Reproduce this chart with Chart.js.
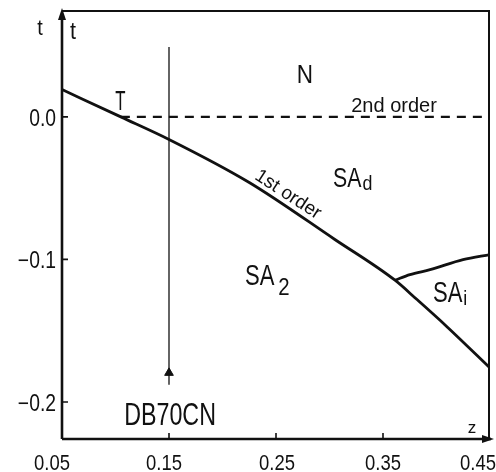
<!DOCTYPE html>
<html lang="en">
<head>
    <meta charset="UTF-8">
    <title>Phase diagram t vs z</title>
    <style>
        body { margin: 0; background: #fff; }
        #wrap { width: 496px; height: 472px; }
    </style>
</head>
<body>
    <div id="wrap"><canvas id="chart" width="496" height="472"></canvas></div>

    <script src="https://cdn.jsdelivr.net/npm/chart.js@4.4.9/dist/chart.umd.min.js"></script>
    <script>
        // axis range, tick values and labels
        const zMin = 0.05, zMax = 0.45;
        const tMin = -0.226, tMax = 0.075;
        const xTicks = [0.05, 0.15, 0.25, 0.35, 0.45];
        const xTickLabels = ['0.05', '0.15', '0.25', '0.35', '0.45'];
        const yTicks = [0.0, -0.1, -0.2];
        const yTickLabels = ['0.0', '\u22120.1', '\u22120.2'];

        // first order line (N/SAd -> SA2 / SAi)
        const zFirst = [0.05, 0.105, 0.15, 0.225, 0.305, 0.3612, 0.3815, 0.4095, 0.45];
        const tFirst = [0.0192, 0.0, -0.0158, -0.046, -0.086, -0.1146, -0.128, -0.147, -0.1761];
        // SAd / SAi boundary
        const zSAi = [0.3612, 0.3752, 0.394, 0.4248, 0.45];
        const tSAi = [-0.1146, -0.1107, -0.1072, -0.1002, -0.0966];
        // second order N-SAd line (dashed)
        const zSecond = [0.105, 0.45];
        const tSecond = [0.0, 0.0];
        // DB70CN path
        const zProbe = [0.15, 0.15];
        const tProbe = [0.049, -0.188];
        const zArrow = [0.15];
        const tArrow = [-0.1796];

        const toXY = (xs, ys) => xs.map((x, i) => ({ x: x, y: ys[i] }));

        // Liberation Sans squeezed horizontally stands in for the narrow lettering
        const FONT = '"Liberation Sans", Arial, sans-serif';
        const INK = '#111';
        const xLabelShift = [-10, -5, 1, 0, -12];

        const decor = {
            id: 'decor',
            afterDraw(chart) {
                const ctx = chart.ctx;
                const a = chart.chartArea;
                const xs = chart.scales.x, ys = chart.scales.y;
                const L = a.left, R = a.right, T = a.top, B = a.bottom;
                const px = v => xs.getPixelForValue(v);
                const py = v => ys.getPixelForValue(v);
                ctx.save();
                ctx.setLineDash([]);
                ctx.strokeStyle = INK;
                ctx.fillStyle = INK;

                // axes and frame in one path
                ctx.lineWidth = 2.6;
                ctx.beginPath();
                ctx.moveTo(L, B);
                ctx.lineTo(L, T + 4);
                ctx.moveTo(L, B);
                ctx.lineTo(R + 1, B);
                ctx.stroke();
                ctx.lineWidth = 2;
                ctx.beginPath();
                ctx.moveTo(L, T + 1);
                ctx.lineTo(R - 1, T + 1);
                ctx.lineTo(R - 1, B);
                ctx.stroke();

                // arrow heads
                ctx.beginPath();
                ctx.moveTo(L, T - 2);
                ctx.lineTo(L - 4, T + 10);
                ctx.lineTo(L + 4, T + 10);
                ctx.closePath();
                ctx.fill();
                ctx.beginPath();
                ctx.moveTo(R + 4, B);
                ctx.lineTo(R - 8, B - 4);
                ctx.lineTo(R - 8, B + 4);
                ctx.closePath();
                ctx.fill();

                // tick marks
                ctx.lineWidth = 1.6;
                ctx.beginPath();
                yTicks.forEach(v => {
                    ctx.moveTo(L, py(v));
                    ctx.lineTo(L + 6, py(v));
                });
                xTicks.slice(1, -1).forEach(v => {
                    ctx.moveTo(px(v), B);
                    ctx.lineTo(px(v), B - 6);
                });
                ctx.stroke();

                // condensed text helper, returns drawn width
                const text = (s, x, y, size, align, squeeze, baseline) => {
                    const k = squeeze || 0.8;
                    ctx.font = size + 'px ' + FONT;
                    ctx.textAlign = align || 'left';
                    ctx.textBaseline = baseline || 'alphabetic';
                    ctx.save();
                    ctx.translate(x, y);
                    ctx.scale(k, 1);
                    ctx.fillText(s, 0, 0);
                    ctx.restore();
                    return ctx.measureText(s).width * k;
                };
                const sub = (main, s, x, y, size, subSize, dx, dy) => {
                    const w = text(main, x, y, size, 'left', 0.76);
                    text(s, x + w + dx, y + dy, subSize, 'left', 0.85);
                };

                // tick labels
                xTicks.forEach((v, i) => text(xTickLabels[i], px(v) + xLabelShift[i], B + 31, 22, 'center', 0.84));
                yTicks.forEach((v, i) => text(yTickLabels[i], L - 6, py(v) + 9, 23, 'right', 0.84));

                // axis names
                text('t', L - 22, T + 25, 22, 'center', 0.9);
                text('t', L + 11, T + 29, 24, 'center', 0.9);
                text('z', R - 18, B - 6, 17, 'center', 1.0);

                // region and line labels
                text('T', px(0.1045), py(0.005), 28, 'center', 0.6);
                text('N', px(0.277), py(0.0239), 25, 'center', 0.9);
                text('2nd order', px(0.3603), py(0.0035), 20, 'center', 1.0);
                sub('SA', 'd', px(0.3033), py(-0.0491), 28, 21, 1, 3);
                sub('SA', '2', px(0.221), py(-0.1179), 29, 24, 4, 10);
                sub('SA', 'i', px(0.3967), py(-0.1298), 29, 21, 1, 3);
                text('DB70CN', px(0.151), py(-0.2161), 31, 'center', 0.75);

                ctx.save();
                ctx.translate(px(0.2612), py(-0.0545));
                ctx.rotate(33 * Math.PI / 180);
                text('1st order', 0, 0, 19, 'center', 1.0, 'middle');
                ctx.restore();

                ctx.restore();
            }
        };

        const line = (data, extra) => Object.assign({
            data: data,
            showLine: true,
            borderColor: INK,
            backgroundColor: INK,
            borderWidth: 2.8,
            pointRadius: 0,
            cubicInterpolationMode: 'monotone'
        }, extra || {});

        new Chart(document.getElementById('chart'), {
            type: 'scatter',
            data: {
                datasets: [
                    line(toXY(zFirst, tFirst)),
                    line(toXY(zSAi, tSAi)),
                    line(toXY(zSecond, tSecond), { borderDash: [9, 7], borderWidth: 2.2 }),
                    line(toXY(zProbe, tProbe), { borderWidth: 1.3 }),
                    { data: toXY(zArrow, tArrow), pointStyle: 'triangle', pointRadius: 5,
                      backgroundColor: INK, borderColor: INK, borderWidth: 1 }
                ]
            },
            options: {
                responsive: false,
                animation: false,
                devicePixelRatio: 1,
                layout: { padding: { top: 10, right: 6, left: 0, bottom: 0 } },
                plugins: { legend: { display: false }, tooltip: { enabled: false } },
                scales: {
                    x: {
                        type: 'linear', min: zMin, max: zMax,
                        border: { display: false },
                        grid: { display: false, drawTicks: false },
                        afterBuildTicks: s => { s.ticks = xTicks.map(v => ({ value: v })); },
                        afterFit: s => { s.height = 33; s.paddingLeft = 0; s.paddingRight = 0; },
                        ticks: { display: false }
                    },
                    y: {
                        type: 'linear', min: tMin, max: tMax,
                        border: { display: false },
                        grid: { display: false, drawTicks: false },
                        afterBuildTicks: s => { s.ticks = yTicks.map(v => ({ value: v })); },
                        afterFit: s => { s.width = 62; s.paddingTop = 0; s.paddingBottom = 0; },
                        ticks: { display: false }
                    }
                }
            },
            plugins: [decor]
        });
    </script>
</body>
</html>
